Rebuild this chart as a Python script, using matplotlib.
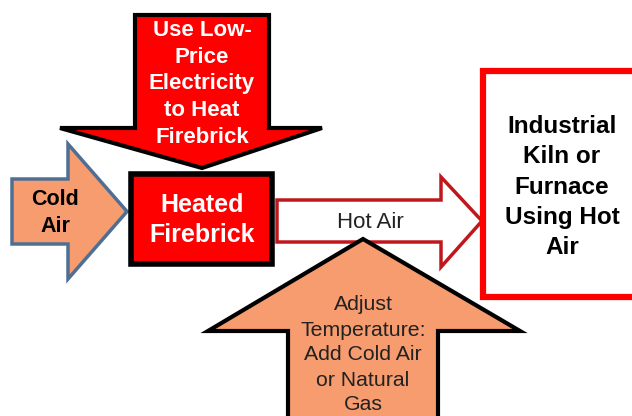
import matplotlib
matplotlib.use("Agg")
import matplotlib.pyplot as plt
from matplotlib.patches import Polygon, Rectangle

# labels of the flow diagram
top_label = "Use Low-\nPrice\nElectricity\nto Heat\nFirebrick"
cold_label = "Cold\nAir"
brick_label = "Heated\nFirebrick"
hot_label = "Hot Air"
kiln_label = "Industrial\nKiln or\nFurnace\nUsing Hot\nAir"
adjust_label = "Adjust\nTemperature:\nAdd Cold Air\nor Natural\nGas"

RED = "#FF0000"
ORANGE = "#F79C6F"
BLUE_EDGE = "#4E6E94"
DARK_RED = "#C0171C"

plt.rcParams['font.family'] = ['Liberation Sans', 'DejaVu Sans']

W, H = 632, 416
fig = plt.figure(figsize=(W / 100, H / 100), dpi=100)
ax = fig.add_axes([0, 0, 1, 1])
ax.set_xlim(0, W)
ax.set_ylim(H, 0)
ax.axis('off')


def right_arrow(x0, y0, y1, xh, yh0, yh1, xt):
    yt = (y0 + y1) / 2
    return [(x0, y0), (xh, y0), (xh, yh0), (xt, yt), (xh, yh1), (xh, y1), (x0, y1)]


def down_arrow(x0, x1, y0, yh, xh0, xh1, yt):
    xt = (x0 + x1) / 2
    return [(x0, y0), (x1, y0), (x1, yh), (xh1, yh), (xt, yt), (xh0, yh), (x0, yh)]


def up_arrow(x0, x1, y0, yh, xh0, xh1, yt):
    xt = (x0 + x1) / 2
    return [(x0, y0), (x0, yh), (xh0, yh), (xt, yt), (xh1, yh), (x1, yh), (x1, y0)]


# top electricity arrow
ax.add_patch(Polygon(down_arrow(135, 269, 15, 128, 60, 322, 168), closed=True,
                     fc=RED, ec="black", lw=3, joinstyle='miter'))
ax.text(202, 84, top_label, ha='center', va='center', color='white',
        fontsize=16, fontweight='bold', linespacing=1.36)

# cold air arrow
ax.add_patch(Polygon(right_arrow(12, 179, 244, 68, 144, 279, 127), closed=True,
                     fc=ORANGE, ec=BLUE_EDGE, lw=2.5, joinstyle='miter'))
ax.text(55, 213, cold_label, ha='center', va='center', color='black',
        fontsize=15.5, fontweight='bold', linespacing=1.42)

# heated firebrick box
ax.add_patch(Rectangle((131, 174), 141, 90, fc=RED, ec="black", lw=4, joinstyle='miter'))
ax.text(202, 220, brick_label, ha='center', va='center', color='white',
        fontsize=18, fontweight='bold', linespacing=1.28)

# hot air arrow
ax.add_patch(Polygon(right_arrow(277, 200, 242, 441, 177, 267, 482), closed=True,
                     fc="white", ec=DARK_RED, lw=2.5, joinstyle='miter'))
ax.text(370, 222, hot_label, ha='center', va='center', color='#222222',
        fontsize=16)

# kiln box (runs off the right edge)
ax.add_patch(Rectangle((483, 71), 200, 226, fc="white", ec=RED, lw=4.5, joinstyle='miter'))
ax.text(562, 187, kiln_label, ha='center', va='center', color='black',
        fontsize=17.5, fontweight='bold', linespacing=1.4)

# adjust temperature arrow (runs off the bottom edge)
ax.add_patch(Polygon(up_arrow(288, 438, 440, 331, 208, 520, 239), closed=True,
                     fc=ORANGE, ec="black", lw=3, joinstyle='miter'))
ax.text(363, 355, adjust_label, ha='center', va='center', color='#222222',
        fontsize=15.3, linespacing=1.4)

fig.savefig("out.png", dpi=100)
